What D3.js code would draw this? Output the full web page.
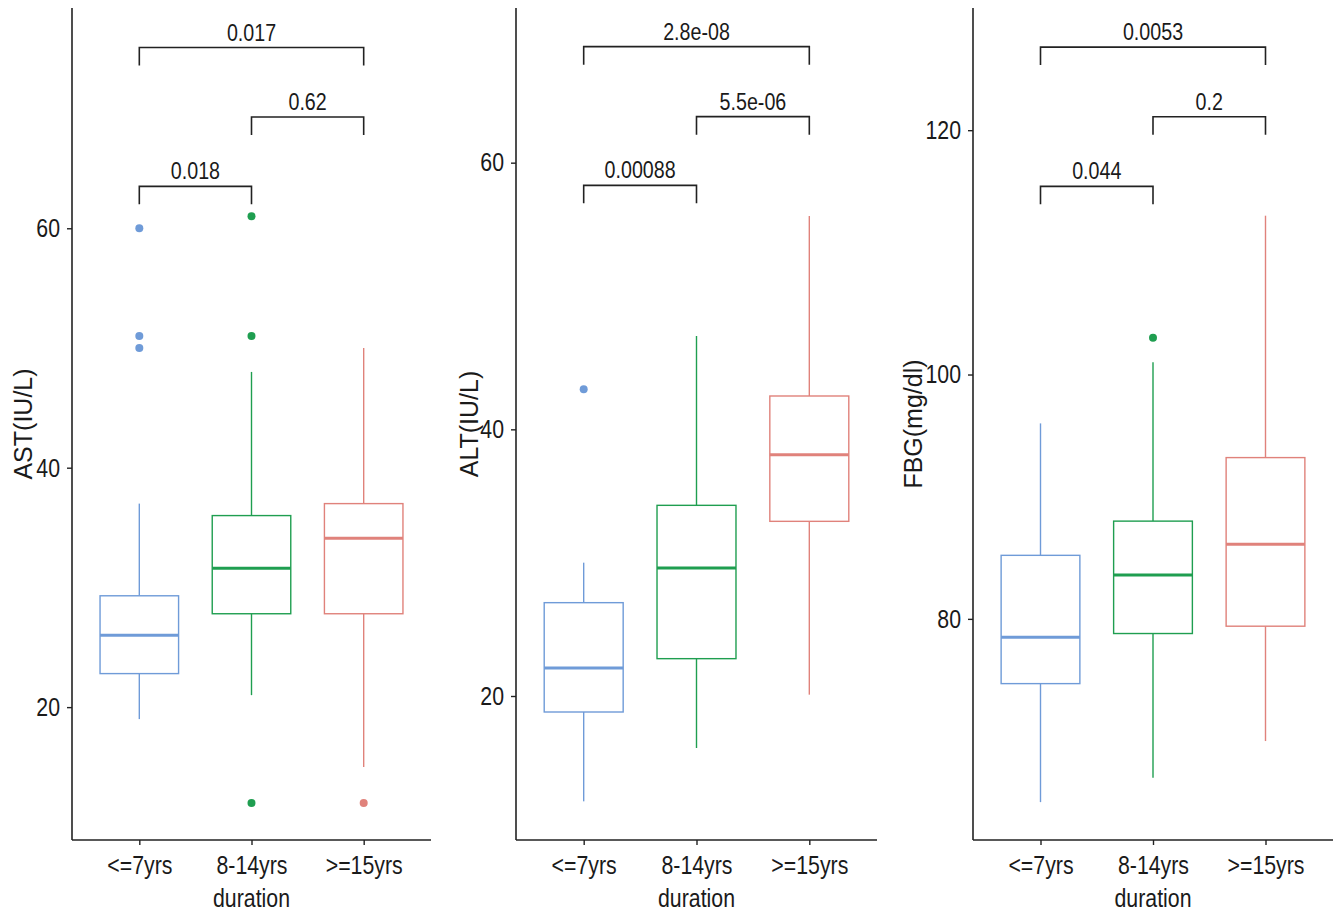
<!DOCTYPE html>
<html>
<head>
<meta charset="utf-8">
<script src="https://cdn.jsdelivr.net/npm/d3@7"></script>
<style>
  body { margin: 0; background: #fff; }
  text { font-family: "Liberation Sans", Arial, sans-serif; fill: #1a1a1a; }
</style>
</head>
<body>
<div id="chart"></div>
<script>
// categories on the x axis (same for every panel)
var categories = ["<=7yrs", "8-14yrs", ">=15yrs"];

// box stats per group: [lower whisker, q1, median, q3, upper whisker]
var astStats = [[19, 22.8, 26, 29.3, 37], [21, 27.8, 31.6, 36, 48], [15, 27.8, 34.1, 37, 50]];
var astOutliers = [[60, 51, 50], [61, 51, 12], [12]];
var astTicks = [20, 40, 60];
var astP = ["0.018", "0.62", "0.017"];
var astPLevels = [63.5, 69.3, 75.1];

var altStats = [[12.1, 18.8, 22.1, 27, 30], [16.1, 22.8, 29.6, 34.3, 47], [20.1, 33.1, 38.1, 42.5, 56]];
var altOutliers = [[43], [], []];
var altTicks = [20, 40, 60];
var altP = ["0.00088", "5.5e-06", "2.8e-08"];
var altPLevels = [58.3, 63.45, 68.7];

var fbgStats = [[65, 74.7, 78.5, 85.2, 96], [67, 78.8, 83.6, 88, 101], [70, 79.4, 86.1, 93.2, 113]];
var fbgOutliers = [[], [103], []];
var fbgTicks = [80, 100, 120];
var fbgP = ["0.044", "0.2", "0.0053"];
var fbgPLevels = [115.4, 121.1, 126.8];

// which groups each bracket joins
var pairs = [[0, 1], [1, 2], [0, 2]];

var colors = ["#6f9bd8", "#1f9e50", "#e0827b"];

var width = 1338, height = 912;
var plotTop = 8, plotBottom = 840;
var narrow = 0.82; // no narrow font installed, squeeze regular one

var svg = d3.select("#chart")
    .append("svg")
    .attr("width", width)
    .attr("height", height);

// panel layout: left axis x, right end, y domain, title x
var panels = [
  { title: "AST(IU/L)", stats: astStats, out: astOutliers, ticks: astTicks, p: astP, lev: astPLevels,
    left: 72, right: 431, domain: [8.9, 78.4], titleX: 32 },
  { title: "ALT(IU/L)", stats: altStats, out: altOutliers, ticks: altTicks, p: altP, lev: altPLevels,
    left: 516, right: 877, domain: [9.2, 71.6], titleX: 478 },
  { title: "FBG(mg/dl)", stats: fbgStats, out: fbgOutliers, ticks: fbgTicks, p: fbgP, lev: fbgPLevels,
    left: 973, right: 1333, domain: [61.9, 130], titleX: 922 }
];

// narrow text placed at x,y
function narrowText(g, x, y, size, str) {
    return g.append("text")
      .attr("transform", "translate(" + x + "," + y + ") scale(" + narrow + ",1)")
      .attr("text-anchor", "middle")
      .attr("font-size", size)
      .text(str);
}

panels.forEach(function(pn) {
    var g = svg.append("g");

    var x = d3.scalePoint()
        .domain(categories)
        .range([pn.left, pn.right])
        .padding(0.6);

    var y = d3.scaleLinear()
        .domain(pn.domain)
        .range([plotBottom, plotTop]);

    var boxW = x.step() * 0.7;

    // whiskers
    g.selectAll(".whiskerUp")
      .data(pn.stats)
      .enter()
      .append("line")
      .attr("x1", function(d, i) { return x(categories[i]); })
      .attr("x2", function(d, i) { return x(categories[i]); })
      .attr("y1", function(d) { return y(d[3]); })
      .attr("y2", function(d) { return y(d[4]); })
      .attr("stroke", function(d, i) { return colors[i]; })
      .attr("stroke-width", 1.4);

    g.selectAll(".whiskerDown")
      .data(pn.stats)
      .enter()
      .append("line")
      .attr("x1", function(d, i) { return x(categories[i]); })
      .attr("x2", function(d, i) { return x(categories[i]); })
      .attr("y1", function(d) { return y(d[1]); })
      .attr("y2", function(d) { return y(d[0]); })
      .attr("stroke", function(d, i) { return colors[i]; })
      .attr("stroke-width", 1.4);

    // boxes
    g.selectAll(".box")
      .data(pn.stats)
      .enter()
      .append("rect")
      .attr("x", function(d, i) { return x(categories[i]) - boxW / 2; })
      .attr("y", function(d) { return y(d[3]); })
      .attr("width", boxW)
      .attr("height", function(d) { return y(d[1]) - y(d[3]); })
      .attr("fill", "#fff")
      .attr("stroke", function(d, i) { return colors[i]; })
      .attr("stroke-width", 1.4);

    // medians
    g.selectAll(".median")
      .data(pn.stats)
      .enter()
      .append("line")
      .attr("x1", function(d, i) { return x(categories[i]) - boxW / 2; })
      .attr("x2", function(d, i) { return x(categories[i]) + boxW / 2; })
      .attr("y1", function(d) { return y(d[2]); })
      .attr("y2", function(d) { return y(d[2]); })
      .attr("stroke", function(d, i) { return colors[i]; })
      .attr("stroke-width", 3);

    // outliers
    pn.out.forEach(function(vals, i) {
        g.selectAll(".out" + i)
          .data(vals)
          .enter()
          .append("circle")
          .attr("cx", x(categories[i]))
          .attr("cy", function(d) { return y(d); })
          .attr("r", 4)
          .attr("fill", colors[i]);
    });

    // significance brackets
    var tip = 18;
    pairs.forEach(function(pr, k) {
        var x1 = x(categories[pr[0]]), x2 = x(categories[pr[1]]);
        var yy = y(pn.lev[k]);
        g.append("path")
          .attr("d", "M" + x1 + "," + (yy + tip) + "V" + yy + "H" + x2 + "V" + (yy + tip))
          .attr("fill", "none")
          .attr("stroke", "#222")
          .attr("stroke-width", 1.6);
        narrowText(g, (x1 + x2) / 2, yy - 7, "24px", pn.p[k]);
    });

    // axes
    var yAxis = d3.axisLeft(y).tickValues(pn.ticks).tickSize(5).tickPadding(6);
    var ga = g.append("g")
        .attr("transform", "translate(" + pn.left + ",0)")
        .call(yAxis);
    ga.select(".domain").remove();
    ga.append("line")
      .attr("y1", plotTop).attr("y2", plotBottom)
      .attr("stroke", "#222").attr("stroke-width", 1.6);
    ga.selectAll(".tick line").attr("stroke", "#222").attr("stroke-width", 1.4);
    ga.selectAll(".tick text")
      .attr("x", -12 / narrow)
      .attr("transform", "scale(" + narrow + ",1)")
      .attr("font-size", "26px")
      .attr("font-family", null)
      .attr("fill", "#1a1a1a");

    var xAxis = d3.axisBottom(x).tickSize(5).tickPadding(11);
    var gx = g.append("g")
        .attr("transform", "translate(0," + plotBottom + ")")
        .call(xAxis);
    gx.select(".domain").remove();
    gx.append("line")
      .attr("x1", pn.left).attr("x2", pn.right)
      .attr("stroke", "#222").attr("stroke-width", 1.6);
    gx.selectAll(".tick line").attr("stroke", "#222").attr("stroke-width", 1.4);
    gx.selectAll(".tick text")
      .attr("transform", "scale(" + narrow + ",1)")
      .attr("font-size", "26px")
      .attr("font-family", null)
      .attr("fill", "#1a1a1a");

    // axis titles
    narrowText(g, x(categories[1]), 907, "26px", "duration");

    g.append("text")
      .attr("transform", "translate(" + pn.titleX + "," + ((plotTop + plotBottom) / 2) + ") rotate(-90)")
      .attr("text-anchor", "middle")
      .attr("font-size", "25px")
      .text(pn.title);
});
</script>
</body>
</html>
